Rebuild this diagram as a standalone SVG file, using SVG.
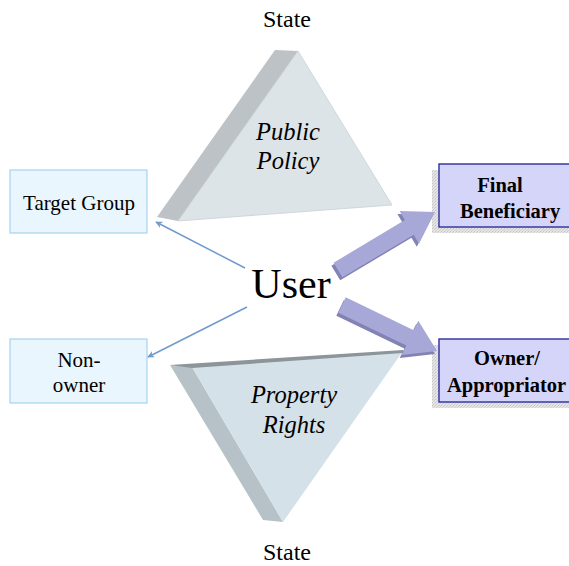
<svg xmlns="http://www.w3.org/2000/svg" width="569" height="566" viewBox="0 0 569 566">
  <defs>
    <style>
      .serif { font-family: "Liberation Serif", "Times New Roman", serif; fill: #000; }
      .lbox { fill: #e9f6fe; stroke: #a8d2ef; stroke-width: 1.2; }
      .pbox { fill: #d5d5fa; stroke: #2e2e9c; stroke-width: 1.4; }
      .pshadow { fill: url(#grain); }
      .thin { stroke: #6f9bcc; stroke-width: 1.5; fill: none; marker-end: url(#thinHead); }
      .fat { fill: #a8a8d8; }
      .fatShade { fill: #8282b4; }
      .lt { font-size: 21px; text-anchor: middle; }
      .pt { font-size: 20.5px; font-weight: bold; }
      .it { font-size: 24.5px; font-style: italic; text-anchor: middle; }
    </style>
    <pattern id="grain" width="3" height="3" patternUnits="userSpaceOnUse">
      <rect width="3" height="3" fill="#e4e4e4"/>
      <rect width="1" height="1" fill="#c4c4c4"/>
      <rect x="2" y="1" width="1" height="1" fill="#cfcfcf"/>
      <rect x="1" y="2" width="1" height="1" fill="#d2d2d2"/>
    </pattern>
    <marker id="thinHead" viewBox="0 0 10 10" refX="9" refY="5" markerWidth="7" markerHeight="7" markerUnits="userSpaceOnUse" orient="auto">
      <path d="M0,0 L10,5 L0,10 L3,5 Z" fill="#6f9bcc"/>
    </marker>
  </defs>

  <!-- headings -->
  <text class="serif" x="287" y="27" font-size="24" text-anchor="middle">State</text>
  <text class="serif" x="287" y="560" font-size="24" text-anchor="middle">State</text>

  <!-- upper prism -->
  <g id="public-policy">
    <polygon points="275,50 298,51 178,221 157,217" fill="#bcc2c6"/>
    <polygon points="298,51 392,205 178,221" fill="#dde4e7" stroke="#c8d0d4" stroke-width="0.8"/>
    <text class="serif it" x="288" y="140">Public</text>
    <text class="serif it" x="288" y="169">Policy</text>
  </g>

  <!-- lower prism -->
  <g id="property-rights">
    <polygon points="170,365 192,367 283,522 263,520" fill="#b6c2c8"/>
    <polygon points="192,367 403,351 283,522" fill="#d5e1e8"/>
    <polygon points="170,365 403,350 403,353 192,368" fill="#8c9599"/>
    <text class="serif it" x="294" y="403">Property</text>
    <text class="serif it" x="294" y="433">Rights</text>
  </g>

  <!-- centre -->
  <g id="user">
    <text class="serif" x="291" y="298" font-size="42" text-anchor="middle">User</text>
  </g>

  <!-- left boxes -->
  <g id="target-group">
    <rect class="lbox" x="10" y="170" width="137" height="63"/>
    <text class="serif lt" x="79" y="210">Target Group</text>
  </g>
  <g id="non-owner">
    <rect class="lbox" x="10" y="339" width="137" height="64"/>
    <text class="serif lt" x="79" y="367">Non-</text>
    <text class="serif lt" x="79" y="392">owner</text>
  </g>

  <!-- right boxes -->
  <g id="final-beneficiary">
    <rect class="pshadow" x="432" y="170" width="145" height="63"/>
    <rect class="pbox" x="439" y="164" width="140" height="63"/>
    <text class="serif pt" x="500" y="192" text-anchor="middle">Final</text>
    <text class="serif pt" x="460" y="218">Beneficiary</text>
  </g>
  <g id="owner-appropriator">
    <rect class="pshadow" x="432" y="345" width="145" height="63"/>
    <rect class="pbox" x="439" y="339" width="140" height="63"/>
    <text class="serif pt" x="507" y="365" text-anchor="middle">Owner/</text>
    <text class="serif pt" x="447" y="392">Appropriator</text>
  </g>

  <!-- connectors -->
  <g id="connectors">
    <line class="thin" x1="245" y1="268" x2="156" y2="222"/>
    <line class="thin" x1="247" y1="307" x2="148" y2="357"/>

    <polygon class="fatShade" points="331.4,265.7 340.2,280.3 411.5,237.7 416.8,246.7 433,215 397.4,214.1 402.7,223.1"/>
    <polygon class="fat" points="333.6,262.7 342.4,277.3 413.7,234.7 419,243.7 435,212 399.6,211.1 404.9,220.1"/>

    <polygon class="fatShade" points="336.3,315.7 343.7,300.3 411.7,333.2 416.3,323.8 435,354 399.7,358 404.3,348.6"/>
    <polygon class="fat" points="338.3,312.7 345.7,297.3 413.7,330.2 418.3,320.8 437,351 401.7,355 406.3,345.6"/>
  </g>
</svg>
